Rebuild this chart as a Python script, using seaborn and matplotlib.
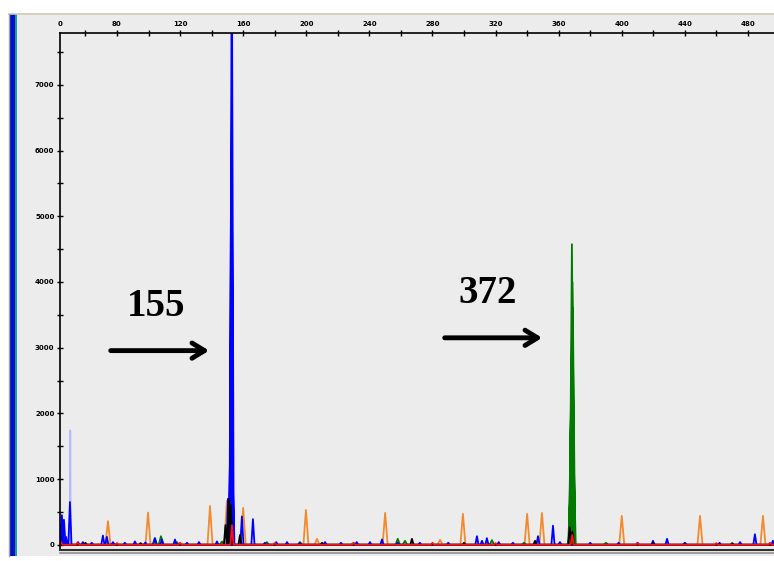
import numpy as np
import pandas as pd
import seaborn as sns
import matplotlib.pyplot as plt
from matplotlib.patches import Rectangle
from matplotlib.lines import Line2D
from matplotlib.ticker import MultipleLocator

# Peak lists (size in bp, height in RFU)
orange_pos = [74.3, 99.7, 139.0, 149.7, 160.0, 199.8, 206.8, 250.0, 284.8, 299.3, 340.0, 349.4, 400.0, 449.6, 489.5]
orange_h = [360, 490, 590, 670, 560, 530, 90, 485, 75, 470, 470, 485, 440, 440, 440]

blue_pos = [44.3, 45.1, 46.4, 47.7, 50.2, 55.3, 58.4, 64.0, 71.1, 73.6, 77.5, 85.0, 91.4, 98.0,
            104.1, 108.5, 116.8, 124.4, 132.0, 143.4, 150.4, 151.6, 152.3, 152.6, 153.0, 153.5, 159.2,
            166.2, 173.8, 181.0, 187.8, 196.0, 211.9, 222.0, 232.0, 240.4, 248.0, 258.0, 272.0,
            290.0, 308.2, 311.4, 314.5, 322.0, 331.0, 346.9, 356.4, 360.8, 380.0, 398.0, 410.0,
            419.8, 428.7, 440.0, 462.0, 475.0, 484.4, 495.8]
blue_h = [300, 450, 380, 120, 650, 40, 40, 30, 140, 120, 40, 30, 50, 35,
          100, 80, 80, 30, 40, 50, 700, 1200, 5400, 7900, 7900, 900, 430,
          390, 30, 40, 40, 30, 40, 30, 40, 40, 80, 30, 30,
          30, 130, 60, 100, 40, 30, 130, 290, 40, 30, 30, 30,
          60, 90, 30, 30, 40, 160, 60]

faint_pos = [50.4]
faint_h = [1740]

green_pos = [46.0, 104.0, 107.9, 118.0, 146.6, 175.0, 196.0, 230.0, 258.0, 262.6, 317.7,
             338.0, 367.4, 367.8, 368.1, 368.4, 368.7, 369.0, 369.4, 390.0, 440.0]
green_h = [40, 100, 130, 40, 50, 40, 40, 30, 90, 60, 70,
           30, 800, 2000, 2750, 4575, 4000, 3600, 1500, 30, 25]

black_pos = [60.0, 95.0, 148.8, 150.9, 152.2, 158.0, 210.0, 267.0, 300.0, 345.0, 367.0, 368.7, 420.0, 470.0]
black_h = [30, 25, 300, 700, 600, 150, 30, 90, 30, 60, 270, 200, 25, 25]

red_pos = [44.5, 55.0, 80.0, 120.0, 152.9, 180.0, 230.0, 280.0, 320.0, 368.6, 410.0, 460.0, 494.0]
red_h = [40, 30, 25, 30, 300, 25, 25, 30, 25, 150, 25, 25, 30]

x_ticks = [80, 120, 160, 200, 240, 280, 320, 360, 400, 440, 480]
y_ticks = [0, 1000, 2000, 3000, 4000, 5000, 6000, 7000]


def trace(pos, h, dye, hw=1.4):
    xs, ys = [43.9], [0]
    for p, v in sorted(zip(pos, h)):
        xs += [p - hw, p, p + hw]
        ys += [0, v, 0]
    xs.append(496.5)
    ys.append(0)
    return pd.DataFrame({"size": xs, "rfu": ys, "dye": dye})


df = pd.concat([
    trace(faint_pos, faint_h, "faint", hw=0.3),
    trace(orange_pos, orange_h, "orange", hw=1.6),
    trace(green_pos, green_h, "green", hw=1.4),
    trace(blue_pos, blue_h, "blue", hw=1.0),
    trace(black_pos, black_h, "black", hw=1.0),
    trace(red_pos, red_h, "red", hw=1.0),
], ignore_index=True)

palette = {"faint": "#b8b8ff", "orange": "#f28a30", "green": "#007a00",
           "blue": "#0000ff", "black": "#000000", "red": "#ff1010"}

W, H = 774, 561
fig = plt.figure(figsize=(W / 100, H / 100), dpi=100, facecolor="white")

# window chrome
fig.add_artist(Rectangle((9 / W, 1 - 556 / H), 765 / W, 542 / H, transform=fig.transFigure,
                         facecolor="#ececec", edgecolor="none", zorder=0))
fig.add_artist(Line2D([9 / W, 1], [1 - 14 / H] * 2, color="#cfc8b4", lw=1.2))
fig.add_artist(Line2D([8.5 / W] * 2, [1 - 14 / H, 1 - 556 / H], color="#a0a0a0", lw=1))
fig.add_artist(Rectangle((10 / W, 1 - 556 / H), 5 / W, 542 / H, transform=fig.transFigure,
                         facecolor="#0010c8", edgecolor="none"))
fig.add_artist(Rectangle((15 / W, 1 - 556 / H), 2 / W, 542 / H, transform=fig.transFigure,
                         facecolor="#10a0a0", edgecolor="none"))

ax = fig.add_axes([60 / W, 1 - 550 / H, 714 / W, 517 / H])
ax.set_facecolor("#ececec")

sns.lineplot(data=df, x="size", y="rfu", hue="dye", palette=palette,
             hue_order=list(palette.keys()), estimator=None, sort=False,
             legend=False, lw=1.3, ax=ax)

ax.set_xlim(43.9, 496.5)
ax.set_ylim(-80, 7790)
ax.set_xlabel("")
ax.set_ylabel("")

ax.xaxis.tick_top()
ax.set_xticks(x_ticks)
ax.set_xticklabels([str(t) for t in x_ticks])
ax.xaxis.set_minor_locator(MultipleLocator(20))
ax.set_yticks(y_ticks)
ax.set_yticklabels([str(t) for t in y_ticks])
ax.yaxis.set_minor_locator(MultipleLocator(500))
ax.tick_params(which="both", direction="inout", length=4, width=1, color="black",
               labelsize=5, pad=2)
for lab in ax.get_xticklabels() + ax.get_yticklabels():
    lab.set_fontweight("bold")
ax.text(0, 1.012, "0", transform=ax.transAxes, ha="center", va="bottom",
        fontsize=5, fontweight="bold")

for s in ["left", "top"]:
    ax.spines[s].set_color("black")
    ax.spines[s].set_linewidth(1.2)
ax.spines["bottom"].set_color("#303030")
ax.spines["bottom"].set_linewidth(1.5)
ax.spines["right"].set_visible(False)
fig.add_artist(Line2D([60 / W, 1], [1 - 553 / H] * 2, color="#909090", lw=1.2))

# allele call annotations
serif = ["Liberation Serif", "DejaVu Serif"]
ax.text(104.7, 3620, "155", ha="center", va="center", fontsize=28,
        fontweight="bold", family=serif)
ax.text(315.2, 3830, "372", ha="center", va="center", fontsize=28,
        fontweight="bold", family=serif)
arrow = dict(arrowstyle="->,head_length=0.9,head_width=0.55", lw=3.5, color="black")
ax.annotate("", xy=(140.2, 2955), xytext=(74.3, 2955), arrowprops=arrow)
ax.annotate("", xy=(351.3, 3150), xytext=(286.0, 3150), arrowprops=arrow)

fig.savefig("out.png", dpi=100, facecolor="white")
